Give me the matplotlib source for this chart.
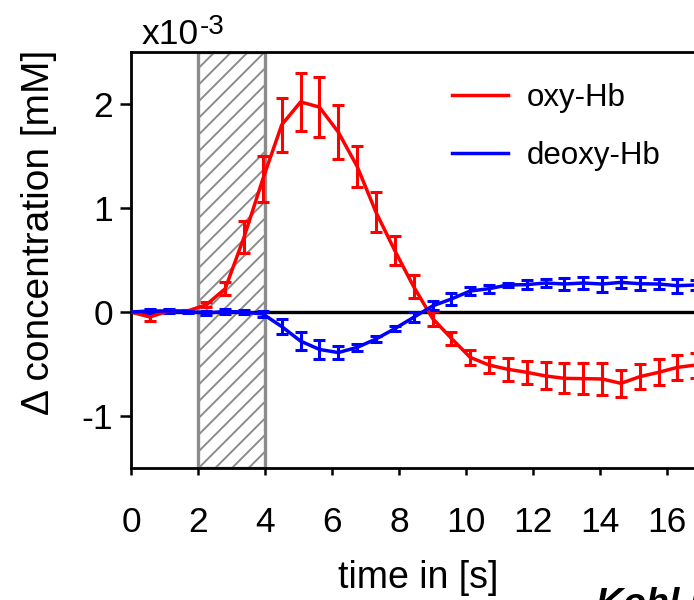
import matplotlib
matplotlib.use("Agg")
import matplotlib.pyplot as plt
from matplotlib.lines import Line2D

plt.rcParams['font.family'] = ['Liberation Sans', 'DejaVu Sans']
plt.rcParams['hatch.linewidth'] = 1.4

# ---- data ----
dt = 0.5625
sample_index = list(range(31))
time_s = [i * dt for i in sample_index]

oxy_hb = [0.0, -0.048, 0.01, 0.01, 0.07, 0.224, 0.72, 1.28, 1.80, 2.02,
          1.97, 1.73, 1.40, 0.96, 0.59, 0.244, -0.061, -0.253, -0.436, -0.51,
          -0.551, -0.58, -0.615, -0.638, -0.641, -0.644, -0.686, -0.622, -0.58, -0.532,
          -0.51]
oxy_err = [0.0, 0.035, 0.01, 0.01, 0.024, 0.065, 0.154, 0.22, 0.26, 0.28,
           0.29, 0.26, 0.20, 0.19, 0.14, 0.11, 0.07, 0.06, 0.07, 0.075,
           0.11, 0.11, 0.13, 0.145, 0.15, 0.15, 0.13, 0.12, 0.125, 0.12,
           0.12]

deoxy_hb = [0.0, 0.01, 0.01, 0.005, -0.01, 0.005, 0.0, -0.02, -0.14, -0.28,
            -0.36, -0.39, -0.34, -0.26, -0.16, -0.051, 0.058, 0.125, 0.202, 0.224,
            0.26, 0.263, 0.279, 0.269, 0.279, 0.269, 0.285, 0.272, 0.269, 0.253,
            0.26]
deoxy_err = [0.0, 0.015, 0.015, 0.015, 0.015, 0.02, 0.02, 0.03, 0.07, 0.09,
             0.09, 0.06, 0.035, 0.025, 0.025, 0.048, 0.043, 0.053, 0.043, 0.04,
             0.02, 0.04, 0.04, 0.06, 0.06, 0.072, 0.056, 0.06, 0.048, 0.069,
             0.05]

stim_start, stim_end = 2.0, 4.0
x_ticks = [0, 2, 4, 6, 8, 10, 12, 14, 16]
y_ticks = [-1, 0, 1, 2]
series_labels = ["oxy-Hb", "deoxy-Hb"]

# ---- figure ----
W, H = 694, 600
fig = plt.figure(figsize=(W / 100, H / 100), dpi=100)
ax_left, ax_bottom, ax_w, ax_h = 131, 132, 563, 416
ax = fig.add_axes([ax_left / W, ax_bottom / H, ax_w / W, ax_h / H])

ax.set_xlim(0, ax_w / 33.5)
ax.set_ylim(-1.5, 2.5)

# stimulation period
ax.axvspan(stim_start, stim_end, facecolor='none', edgecolor='#8c8c8c',
           hatch='//', linewidth=2.4, zorder=1)

ax.axhline(0, color='black', linewidth=2.4, zorder=2)

ekw = dict(linewidth=2.5, elinewidth=2.2, capsize=4, capthick=2.2, zorder=3)
ax.errorbar(time_s, oxy_hb, yerr=oxy_err, color='#ff0000', **ekw)
ax.errorbar(time_s, deoxy_hb, yerr=deoxy_err, color='#0000ff', **ekw)

ax.set_xticks(x_ticks)
ax.set_yticks(y_ticks)
ax.set_xticklabels([str(v) for v in x_ticks])
ax.set_yticklabels([str(v) for v in y_ticks])
ax.tick_params(axis='x', direction='out', length=5, width=1.8, pad=22,
               labelsize=25.5)
ax.tick_params(axis='y', direction='out', length=8, width=1.8, pad=5,
               labelsize=25.5)

for s in ['left', 'top', 'bottom']:
    ax.spines[s].set_linewidth(2.0)
    ax.spines[s].set_color('black')
ax.spines['right'].set_visible(False)

ax.set_xlabel("time in [s]", fontsize=27)
ax.xaxis.set_label_coords((418 - ax_left) / ax_w, -0.222)
ax.set_ylabel("Δ concentration [mM]", fontsize=28)
ax.yaxis.set_label_coords((57 - ax_left) / ax_w, 0.567)

# exponent label
fig.text(142 / W, (H - 44) / H, "x10", fontsize=25.5, ha='left', va='baseline')
fig.text(200 / W, (H - 34) / H, "-3", fontsize=20, ha='left', va='baseline')

handles = [Line2D([], [], color='#ff0000', linewidth=2.5),
           Line2D([], [], color='#0000ff', linewidth=2.5)]
ax.legend(handles, series_labels, loc='upper left',
          bbox_to_anchor=((452 - ax_left) / ax_w, 0.925),
          frameon=False, fontsize=22.5, handlelength=1.78, handletextpad=0.6,
          labelspacing=0.9, borderpad=0, borderaxespad=0)

# partially visible source credit at the bottom-right edge
fig.text(596 / W, -15 / H, "Kohl M et al.", fontsize=27, fontweight='bold',
         fontstyle='italic', ha='left', va='baseline')

fig.savefig("out.png", dpi=100)
